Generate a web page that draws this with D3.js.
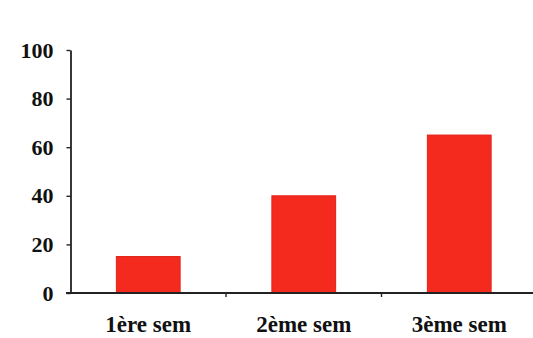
<!DOCTYPE html>
<html>
<head>
<meta charset="utf-8">
<script src="https://cdn.jsdelivr.net/npm/d3@7"></script>
<style>
  html, body { margin: 0; padding: 0; background: #fff; }
  svg { display: block; }
  .tick text { font-family: "Liberation Serif", "Times New Roman", serif; font-weight: bold; fill: #111; }
</style>
</head>
<body>
<svg id="chart" width="533" height="338"></svg>
<script>
// Weekly values per semester
const categories = ["1ère sem", "2ème sem", "3ème sem"];
const values = [15, 40, 65];
const yTicks = [0, 20, 40, 60, 80, 100];

const svg = d3.select("#chart");
const W = 533, H = 338;

const x = d3.scaleBand()
  .domain(categories)
  .range([70.5, 537])
  .paddingInner(0.59)
  .paddingOuter(0.295);

const y = d3.scaleLinear()
  .domain([0, 100])
  .range([293, 50]);

// Bars
svg.append("g")
  .selectAll("rect")
  .data(values)
  .join("rect")
  .attr("x", (d, i) => x(categories[i]))
  .attr("y", d => y(d))
  .attr("width", x.bandwidth())
  .attr("height", d => y(0) - y(d))
  .attr("fill", "#f42a1f")
  .attr("stroke", "#e0231a")
  .attr("stroke-width", 1);

// Y axis
const yAxis = svg.append("g")
  .attr("transform", "translate(70.5,0)")
  .call(d3.axisLeft(y).tickValues(yTicks).tickSize(4).tickSizeOuter(0).tickPadding(13));
yAxis.selectAll("text").style("font-size", "22px");
yAxis.select(".domain").attr("stroke", "#222").attr("stroke-width", 1.8);
yAxis.selectAll(".tick line").attr("stroke", "#222").attr("stroke-width", 1.4);

// X axis with tick marks between categories
const xAxis = svg.append("g")
  .attr("transform", "translate(0,293)");
xAxis.append("line")
  .attr("x1", 66).attr("x2", W)
  .attr("stroke", "#222").attr("stroke-width", 1.8);
const step = x.step();
const bounds = d3.range(categories.length + 1).map(i => x.range()[0] + i * step);
xAxis.selectAll(".sep")
  .data(bounds.slice(1))
  .join("line")
  .attr("x1", d => d).attr("x2", d => d)
  .attr("y1", 0).attr("y2", 4)
  .attr("stroke", "#222").attr("stroke-width", 1.4);
xAxis.selectAll(".lbl")
  .data(categories)
  .join("text")
  .attr("x", d => x(d) + x.bandwidth() / 2)
  .attr("y", 39)
  .attr("text-anchor", "middle")
  .style("font-family", "'Liberation Serif', 'Times New Roman', serif")
  .style("font-weight", "bold")
  .style("font-size", "23px")
  .attr("fill", "#111")
  .text(d => d);
</script>
</body>
</html>
